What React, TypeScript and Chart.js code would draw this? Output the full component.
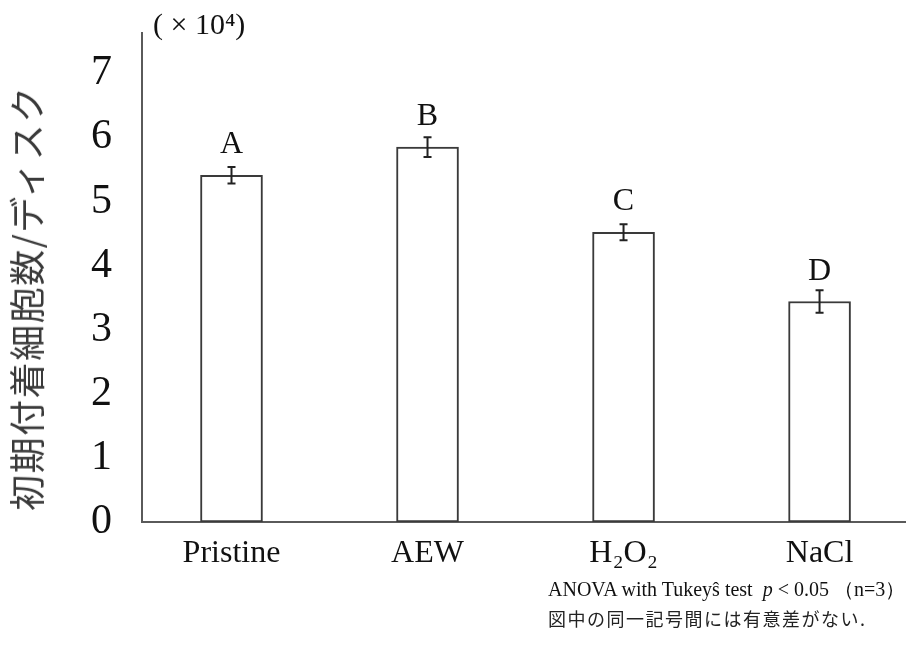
import React, { useEffect, useRef } from "react";
import { Chart, registerables } from "chart.js";

Chart.register(...registerables);

const categories = ["Pristine", "AEW", "H₂O₂", "NaCl"];
const means = [5.41, 5.85, 4.52, 3.44];
const errors = [0.13, 0.155, 0.125, 0.175];
const groupLetters = ["A", "B", "C", "D"];
const yTicks = [0, 1, 2, 3, 4, 5, 6, 7];
const yTitle = "初期付着細胞数/ディスク";
const unitLabel = "( × 10⁴)";
const noteLine1 = "ANOVA with Tukeyŝ test";
const noteP = "p";
const noteLine1Rest = " < 0.05 （n=3）";
const noteLine2 = "図中の同一記号間には有意差がない.";

const SERIF = '"Liberation Serif", "Times New Roman", serif';
const CJK = '"Noto Sans CJK JP", "Noto Sans", sans-serif';

const errorBarPlugin = {
  id: "errorBars",
  afterDatasetsDraw(chart: any) {
    const { ctx } = chart;
    const meta = chart.getDatasetMeta(0);
    const yScale = chart.scales.y;
    ctx.save();
    meta.data.forEach((bar: any, i: number) => {
      const x = bar.x;
      const top = yScale.getPixelForValue(means[i] + errors[i]);
      const bot = yScale.getPixelForValue(means[i] - errors[i]);
      ctx.strokeStyle = "#222";
      ctx.lineWidth = 2;
      ctx.beginPath();
      ctx.moveTo(x, top);
      ctx.lineTo(x, bot);
      ctx.moveTo(x - 4, top);
      ctx.lineTo(x + 4, top);
      ctx.moveTo(x - 4, bot);
      ctx.lineTo(x + 4, bot);
      ctx.stroke();
      const barTop = yScale.getPixelForValue(means[i]);
      ctx.fillStyle = "#111";
      ctx.font = `32px ${SERIF}`;
      ctx.textAlign = "center";
      ctx.textBaseline = "alphabetic";
      ctx.fillText(groupLetters[i], x, barTop - 22);
    });
    ctx.restore();
  },
};

export default function App() {
  const canvasRef = useRef<HTMLCanvasElement | null>(null);

  useEffect(() => {
    if (!canvasRef.current) return;
    const chart = new Chart(canvasRef.current, {
      type: "bar",
      data: {
        datasets: [
          {
            data: means.map((m, i) => ({ x: i, y: m })),
            backgroundColor: "#ffffff",
            borderColor: "#3a3a3a",
            borderWidth: 2,
            borderSkipped: false,
            barThickness: 62,
          },
        ],
      },
      options: {
        animation: false,
        responsive: false,
        maintainAspectRatio: false,
        layout: { padding: { top: 33, right: 0, left: 0, bottom: 0 } },
        plugins: {
          legend: { display: false },
          tooltip: { enabled: false },
        },
        scales: {
          x: {
            type: "linear",
            offset: false,
            min: -0.4566,
            max: 3.441,
            grid: { display: false, drawTicks: false },
            border: { display: true, color: "#5a5a5a", width: 2 },
            afterBuildTicks: (s: any) => {
              s.ticks = categories.map((_, i) => ({ value: i }));
            },
            afterFit: (s: any) => {
              s.height = 123;
              s.paddingLeft = 0;
              s.paddingRight = 0;
            },
            ticks: {
              autoSkip: false,
              maxRotation: 0,
              padding: 12,
              color: "#111",
              font: { family: SERIF, size: 32 },
              callback: (v: any) => categories[v as number] ?? "",
            },
          },
          y: {
            min: 0,
            max: 7.63,
            grid: { display: false, drawTicks: false },
            border: { display: true, color: "#5a5a5a", width: 2 },
            afterBuildTicks: (s: any) => {
              s.ticks = yTicks.map((v) => ({ value: v }));
            },
            afterFit: (s: any) => {
              s.width = 142;
              s.paddingTop = 0;
              s.paddingBottom = 0;
            },
            ticks: {
              padding: 30,
              color: "#111",
              font: { family: SERIF, size: 42 },
            },
          },
        },
      },
      plugins: [errorBarPlugin],
    } as any);
    return () => chart.destroy();
  }, []);

  return (
    <div
      style={{
        position: "fixed",
        left: 0,
        top: 0,
        width: 906,
        height: 645,
        background: "#fff",
        overflow: "hidden",
      }}
    >
      <canvas ref={canvasRef} width={906} height={645} style={{ position: "absolute", left: 0, top: 0 }} />
      <div
        style={{
          position: "absolute",
          left: 25,
          top: 298,
          transform: "translate(-50%, -50%) rotate(-90deg)",
          whiteSpace: "nowrap",
          font: `36px ${CJK}`,
          letterSpacing: "1.5px",
          color: "#3a3a3a",
          lineHeight: 1,
        }}
      >
        {yTitle}
      </div>
      <div
        style={{
          position: "absolute",
          left: 153,
          top: 6,
          whiteSpace: "nowrap",
          font: `30px ${SERIF}`,
          color: "#111",
          lineHeight: 1.2,
        }}
      >
        {unitLabel}
      </div>
      <div
        style={{
          position: "absolute",
          left: 548,
          top: 577,
          whiteSpace: "nowrap",
          font: `20px ${SERIF}`,
          color: "#111",
          lineHeight: 1.2,
        }}
      >
        {noteLine1}
        {"\u00a0\u00a0"}
        <i>{noteP}</i>
        {noteLine1Rest}
      </div>
      <div
        style={{
          position: "absolute",
          left: 548,
          top: 608,
          whiteSpace: "nowrap",
          font: `18px ${CJK}`,
          letterSpacing: "1.5px",
          color: "#222",
          lineHeight: 1.2,
        }}
      >
        {noteLine2}
      </div>
    </div>
  );
}
